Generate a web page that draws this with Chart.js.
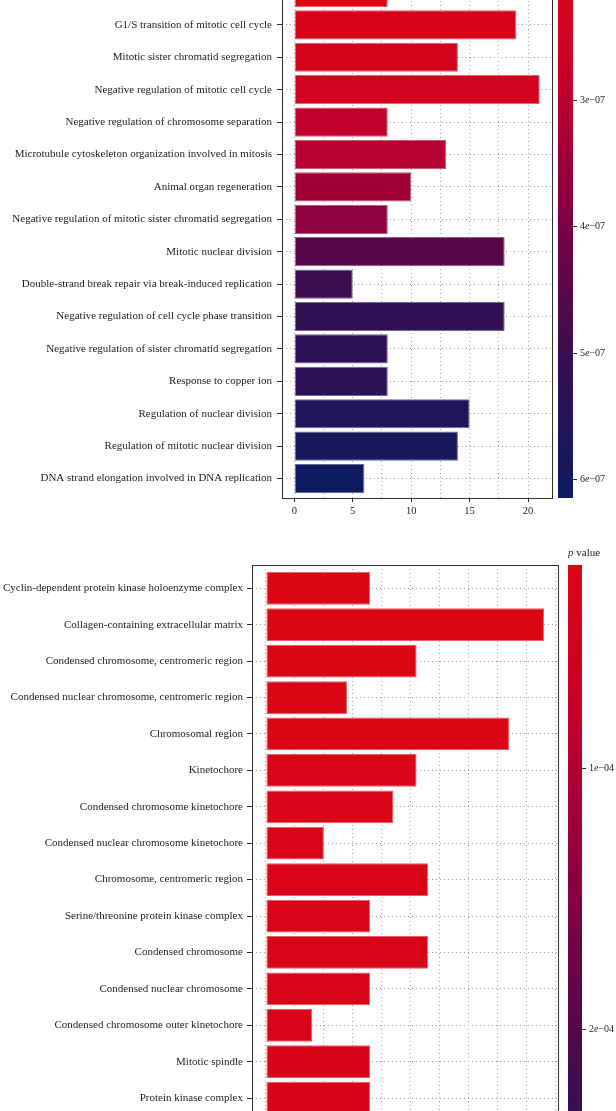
<!DOCTYPE html>
<html>
<head>
<meta charset="utf-8">
<script src="https://cdn.jsdelivr.net/npm/chart.js@4.4.1/dist/chart.umd.min.js"></script>
<style>
  html, body { margin: 0; padding: 0; background: #fff; }
  body { width: 616px; height: 1111px; position: relative; overflow: hidden; }
  .panel { position: absolute; left: 0; }
  .panel canvas { display: block; }
  #bpWrap { top: -47px; }
  #ccWrap { top: 545px; }
</style>
</head>
<body>
<div class="panel" id="bpWrap"><canvas id="bpChart" width="616" height="575"></canvas></div>
<div class="panel" id="ccWrap"><canvas id="ccChart" width="616" height="787"></canvas></div>
<script>
// top panel: GO biological process (the first row is cut off by the top edge)
const bpTerms = [
  '',
  'G1/S transition of mitotic cell cycle',
  'Mitotic sister chromatid segregation',
  'Negative regulation of mitotic cell cycle',
  'Negative regulation of chromosome separation',
  'Microtubule cytoskeleton organization involved in mitosis',
  'Animal organ regeneration',
  'Negative regulation of mitotic sister chromatid segregation',
  'Mitotic nuclear division',
  'Double-strand break repair via break-induced replication',
  'Negative regulation of cell cycle phase transition',
  'Negative regulation of sister chromatid segregation',
  'Response to copper ion',
  'Regulation of nuclear division',
  'Regulation of mitotic nuclear division',
  'DNA strand elongation involved in DNA replication'
];
const bpCounts = [8, 19, 14, 21, 8, 13, 10, 8, 18, 5, 18, 8, 8, 15, 14, 6];
const bpPValues = [2.0e-7, 2.2e-7, 2.3e-7, 2.37e-7, 2.9e-7, 3.08e-7, 3.45e-7, 3.7e-7,
                   4.57e-7, 4.95e-7, 5.24e-7, 5.32e-7, 5.36e-7, 5.65e-7, 5.9e-7, 6.15e-7];
const bpPRange = [2.0e-7, 6.15e-7];
const bpPTicks = [3e-7, 4e-7, 5e-7, 6e-7];
const bpCountTicks = [0, 5, 10, 15, 20];

// bottom panel: GO cellular component (continues below the bottom edge)
const ccTerms = [
  'Cyclin-dependent protein kinase holoenzyme complex',
  'Collagen-containing extracellular matrix',
  'Condensed chromosome, centromeric region',
  'Condensed nuclear chromosome, centromeric region',
  'Chromosomal region',
  'Kinetochore',
  'Condensed chromosome kinetochore',
  'Condensed nuclear chromosome kinetochore',
  'Chromosome, centromeric region',
  'Serine/threonine protein kinase complex',
  'Condensed chromosome',
  'Condensed nuclear chromosome',
  'Condensed chromosome outer kinetochore',
  'Mitotic spindle',
  'Protein kinase complex'
];
const ccCounts = [9, 24, 13, 7, 21, 13, 11, 5, 14, 9, 14, 9, 4, 9, 9];
const ccPValues = [2.2e-5, 2.3e-5, 2.4e-5, 2.4e-5, 2.5e-5, 2.6e-5, 2.7e-5, 2.8e-5,
                   2.9e-5, 3.0e-5, 3.1e-5, 3.2e-5, 3.3e-5, 3.4e-5, 3.5e-5];
const ccPRange = [2.2e-5, 3.05e-4];
const ccPTicks = [1e-4, 2e-4];
const ccCountTicks = [0, 5, 10, 15, 20, 25];

// low p = red, high p = navy
const FILL_STOPS = [[0, '#DC0514'], [0.2, '#C6002A'], [0.48, '#7D0045'], [0.72, '#3A0E50'], [1, '#0E1A5F']];
const FONT = '"Liberation Serif", "DejaVu Serif", serif';
const TEXT = '#1c1c1c';
const AXIS = '#2e2e2e';
const GRID = '#a0a0a0';

function hexRgb(h) { return [1, 3, 5].map(i => parseInt(h.slice(i, i + 2), 16)); }

function fillRgb(t) {
  t = Math.max(0, Math.min(1, t));
  for (let i = 1; i < FILL_STOPS.length; i++) {
    const [t1, c1] = FILL_STOPS[i];
    const [t0, c0] = FILL_STOPS[i - 1];
    if (t <= t1) {
      const k = (t - t0) / (t1 - t0), a = hexRgb(c0), b = hexRgb(c1);
      return a.map((v, j) => Math.round(v + (b[j] - v) * k));
    }
  }
  return hexRgb(FILL_STOPS[FILL_STOPS.length - 1][1]);
}
const rgbStr = c => `rgb(${c[0]},${c[1]},${c[2]})`;
const lighten = (c, k) => c.map(v => Math.round(v + (255 - v) * k));

function drawSci(ctx, p, x, y) {
  const [m, e] = p.toExponential(0).split('e');
  const n = parseInt(e, 10);
  const exp = (n < 0 ? '\u2212' : '+') + String(Math.abs(n)).padStart(2, '0');
  ctx.font = `10px ${FONT}`;
  ctx.fillText(m, x, y); x += ctx.measureText(m).width;
  ctx.font = `italic 10px ${FONT}`;
  ctx.fillText('e', x, y); x += ctx.measureText('e').width;
  ctx.font = `10px ${FONT}`;
  ctx.fillText(exp, x, y);
}

// panel border + p value colour bar legend
const panelPlugin = {
  id: 'panel',
  afterDatasetsDraw(chart, args, opts) {
    const { ctx, chartArea: a } = chart;
    const [pMin, pMax] = opts.range;
    ctx.save();
    ctx.strokeStyle = AXIS;
    ctx.lineWidth = 1;
    ctx.strokeRect(Math.round(a.left) + 0.5, Math.round(a.top) + 0.5,
                   Math.round(a.right - a.left), Math.round(a.bottom - a.top));

    const x0 = Math.round(a.right) + opts.gap;
    const h = a.bottom - a.top;
    for (let y = Math.floor(a.top); y < a.bottom; y++) {
      ctx.fillStyle = rgbStr(fillRgb((y + 0.5 - a.top) / h));
      ctx.fillRect(x0, y, opts.width, 1);
    }
    ctx.fillStyle = TEXT;
    ctx.textBaseline = 'middle';
    ctx.textAlign = 'left';
    opts.ticks.forEach(p => {
      const y = Math.round(a.top + (p - pMin) / (pMax - pMin) * h) + 0.5;
      ctx.beginPath();
      ctx.moveTo(x0 + opts.width, y);
      ctx.lineTo(x0 + opts.width + 4, y);
      ctx.stroke();
      drawSci(ctx, p, x0 + opts.width + 7, y);
    });
    ctx.textBaseline = 'alphabetic';
    ctx.font = `italic 11px ${FONT}`;
    ctx.fillText('p', x0, a.top - 9);
    const w = ctx.measureText('p').width;
    ctx.font = `11px ${FONT}`;
    ctx.fillText(' value', x0 + w, a.top - 9);
    ctx.restore();
  }
};

function makeChart(id, terms, counts, pValues, pRange, pTicks, o) {
  const fills = pValues.map(p => fillRgb((p - pRange[0]) / (pRange[1] - pRange[0])));
  return new Chart(document.getElementById(id), {
    type: 'bar',
    data: {
      datasets: [{
        data: counts.map((c, i) => ({ x: c, y: i })),
        backgroundColor: fills.map(rgbStr),
        borderColor: fills.map(c => rgbStr(lighten(c, 0.35))),
        borderWidth: 1,
        borderSkipped: false,
        barPercentage: 0.9,
        categoryPercentage: 1
      }]
    },
    options: {
      indexAxis: 'y',
      responsive: false,
      animation: false,
      devicePixelRatio: 1,
      layout: { padding: { left: 0, right: o.padRight, top: 20, bottom: 0 } },
      plugins: {
        legend: { display: false },
        tooltip: { enabled: false },
        panel: { range: pRange, ticks: pTicks, gap: o.barGap, width: o.barWidth }
      },
      scales: {
        x: {
          type: 'linear', min: o.xMin, max: o.xMax, offset: false,
          border: { display: false, dash: [1, 3] },
          grid: {
            offset: false, color: GRID, lineWidth: 1, tickLength: 4,
            tickColor: c => (c.tick && o.xTicks.includes(c.tick.value)) ? AXIS : 'rgba(0,0,0,0)'
          },
          ticks: {
            stepSize: 2.5, includeBounds: false, autoSkip: false, maxRotation: 0,
            padding: 3, color: TEXT, font: { family: FONT, size: 10.5 },
            callback: v => o.xTicks.includes(v) ? String(v) : ''
          },
          afterFit(s) { s.height = 30; s.paddingLeft = 0; s.paddingRight = 0; }
        },
        y: {
          type: 'linear', reverse: true, min: o.yMin, max: o.yMax, offset: false,
          border: { display: false, dash: [1, 3] },
          grid: { offset: false, color: GRID, lineWidth: 1, tickLength: 5, tickColor: AXIS },
          ticks: {
            stepSize: 1, includeBounds: false, autoSkip: false,
            padding: o.labelPad, color: TEXT, font: { family: FONT, size: 11 },
            callback: v => terms[v] ?? ''
          },
          afterFit(s) { s.width = o.axisWidth; s.paddingTop = 0; s.paddingBottom = 0; }
        }
      }
    },
    plugins: [panelPlugin]
  });
}

makeChart('bpChart', bpTerms, bpCounts, bpPValues, bpPRange, bpPTicks, {
  xMin: -1.05, xMax: 22.05, yMin: -0.6, yMax: 15.6, xTicks: bpCountTicks,
  axisWidth: 282, padRight: 64, labelPad: 5, barGap: 6, barWidth: 15
});

makeChart('ccChart', ccTerms, ccCounts, ccPValues, ccPRange, ccPTicks, {
  xMin: -1.2, xMax: 25.2, yMin: -0.64, yMax: 19.6, xTicks: ccCountTicks,
  axisWidth: 252, padRight: 58, labelPad: 4, barGap: 10, barWidth: 14
});
</script>
</body>
</html>
